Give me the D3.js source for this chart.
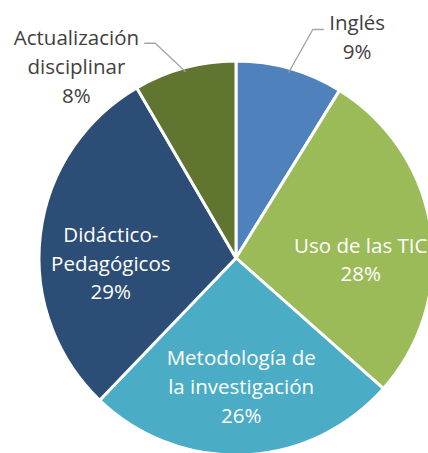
<!DOCTYPE html>
<html><head><meta charset="utf-8">
<script src="https://cdn.jsdelivr.net/npm/d3@7/dist/d3.min.js"></script>
<style>html,body{margin:0;padding:0;background:#fff;overflow:hidden}</style>
</head><body>
<svg id="chart" width="428" height="453"></svg>
<script>
const categories = ["Inglés", "Uso de las TIC", "Metodología de la investigación", "Didáctico-Pedagógicos", "Actualización disciplinar"];
const labelLines = [["Inglés"], ["Uso de las TIC"], ["Metodología de", "la investigación"], ["Didáctico-", "Pedagógicos"], ["Actualización", "disciplinar"]];
const values = [8.8, 27.7, 25.6, 29.4, 8.4];
const colors = ["#4F81BD", "#9BBB59", "#4BACC6", "#2C4D75", "#5F7530"];
const outside = [true, false, false, false, true];

const svg = d3.select("#chart");
const cx = 236, cy = 258, r = 197;
const font = "'Open Sans', sans-serif";
const fs = 20.5, lh = 28.8;

const pie = d3.pie().sort(null).value(d => d)(values);
const arc = d3.arc().innerRadius(0).outerRadius(r);
const g = svg.append("g").attr("transform", `translate(${cx},${cy})`);

g.selectAll("path.slice").data(pie).join("path")
  .attr("class", "slice")
  .attr("d", arc)
  .attr("fill", (d, i) => colors[i])
  .attr("stroke", "#fff").attr("stroke-width", 3).attr("stroke-linejoin", "round");

const total = d3.sum(values);
const pct = v => Math.round(v / total * 100) + "%";

// outside label layout (relative to radius): text centre x, first baseline y, elbow x, elbow y
const outerLayout = {
  0: {tx: 0.615, ty: -1.155, ex: 0.39, ey: -1.16, dir: 1},
  4: {tx: -0.81, ty: -1.08, ex: -0.41, ey: -1.09, dir: -1}
};

pie.forEach((d, i) => {
  const mid = (d.startAngle + d.endAngle) / 2;
  const lines = labelLines[i].concat([pct(values[i])]);
  if (!outside[i]) {
    const lr = 0.64 * r;
    const x = Math.sin(mid) * lr;
    const y = -Math.cos(mid) * lr + 18 * Math.abs(Math.sin(mid));
    const first = y - (lines.length - 1) * lh / 2 + 9.5;
    const t = g.append("text").attr("text-anchor", "middle")
      .attr("font-family", font).attr("font-size", fs).attr("fill", "#fff");
    lines.forEach((s, k) => t.append("tspan").attr("x", x).attr("y", first + k * lh).text(s));
  } else {
    const L = outerLayout[i];
    const sx = Math.sin(mid) * (r - 4), sy = -Math.cos(mid) * (r - 4);
    const ex = L.ex * r, ey = L.ey * r;
    g.append("polyline")
      .attr("points", [[sx, sy], [ex, ey], [ex + L.dir * 11, ey]].map(p => p.join(",")).join(" "))
      .attr("fill", "none").attr("stroke", "#A6A6A6").attr("stroke-width", 1.3);
    const t = g.append("text").attr("text-anchor", "middle")
      .attr("font-family", font).attr("font-size", fs).attr("fill", "#404040");
    lines.forEach((s, k) => t.append("tspan").attr("x", L.tx * r).attr("y", L.ty * r + k * lh).text(s));
  }
});
</script>
</body></html>
